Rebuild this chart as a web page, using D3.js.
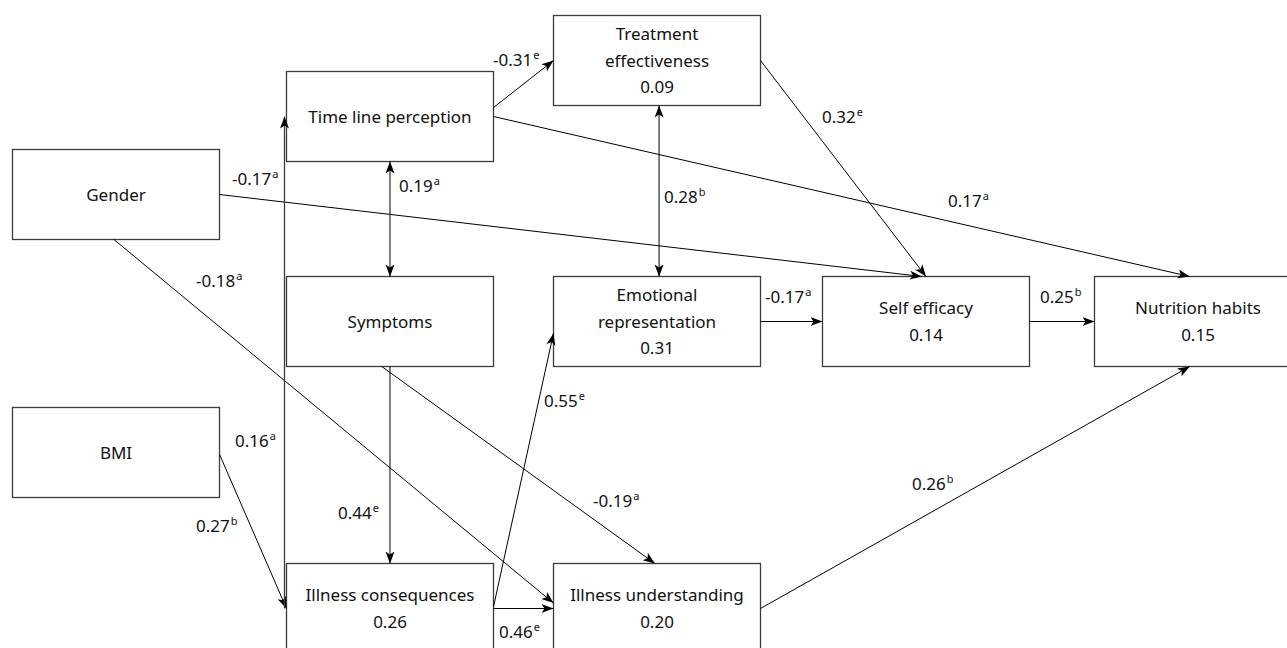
<!DOCTYPE html>
<html>
<head>
<meta charset="utf-8">
<script src="https://cdn.jsdelivr.net/npm/d3@7"></script>
<style>
	body { margin: 0; background: #ffffff; }
	svg { display: block; font-family: "Noto Sans", "DejaVu Sans", sans-serif; }
</style>
</head>
<body>
<svg id="chart" width="1287" height="648"></svg>
<script>

// Variables in the model, with explained variance (R2) where it was reported
var nodeNames = ["Gender", "BMI", "Time line perception", "Symptoms", "Illness consequences",
	"Treatment effectiveness", "Emotional representation", "Illness understanding",
	"Self efficacy", "Nutrition habits"];
var nodeLines = [["Gender"], ["BMI"], ["Time line perception"], ["Symptoms"], ["Illness consequences"],
	["Treatment", "effectiveness"], ["Emotional", "representation"], ["Illness understanding"],
	["Self efficacy"], ["Nutrition habits"]];
var nodeR2 = [null, null, null, null, 0.26, 0.09, 0.31, 0.20, 0.14, 0.15];

// Paths: source, target, standardised coefficient, significance mark, two-headed or not
var pathFrom = [2, 2, 0, 5, 2, 5, 0, 1, 4, 3, 3, 4, 4, 6, 8, 7];
var pathTo   = [5, 9, 8, 8, 3, 6, 7, 4, 2, 4, 7, 6, 7, 8, 9, 9];
var pathCoef = [-0.31, 0.17, -0.17, 0.32, 0.19, 0.28, -0.18, 0.27, 0.16, 0.44, -0.19, 0.55, 0.46, -0.17, 0.25, 0.26];
var pathSig  = ["e", "a", "a", "e", "a", "b", "a", "b", "a", "e", "a", "e", "e", "a", "b", "b"];
var pathBoth = [false, false, false, false, true, true, false, false, false, false, false, false, false, false, false, false];

// ---- layout (kept apart from the values) ----
var W = 1287, H = 648;
var boxW = 207, boxH = 90;
var nodeCol = [0, 0, 1, 1, 1, 2, 2, 2, 3, 4];
var nodeRow = [2, 4, 1, 3, 5, 0, 3, 5, 3, 3];

var xCol = d3.scaleLinear().domain([0, 1, 2, 3, 4]).range([12.5, 286.5, 553.5, 822.5, 1094.5]);
var yRow = d3.scaleLinear().domain([0, 1, 2, 3, 4, 5]).range([15.5, 71.5, 149.5, 276.5, 407.5, 563.5]);

// where each path leaves and enters a box: side and fraction along it
var srcPort = [["R", .40], ["R", .5], ["R", .5], ["R", .5], ["B", .5], ["B", .51], ["B", .49], ["R", .52],
	["L", .5], ["B", .5], ["B", .46], ["R", .48], ["R", .5], ["R", .5], ["R", .5], ["R", .5]];
var tgtPort = [["L", .5], ["T", .46], ["T", .48], ["T", .5], ["T", .5], ["T", .51], ["L", .44], ["L", .5],
	["L", .5], ["T", .5], ["T", .49], ["L", .63], ["L", .5], ["L", .5], ["L", .5], ["B", .46]];
var pathShift = [0, 0, 0, 0, 0, 0, 0, 0, -2, 0, 0, 0, 0, 0, 0, 0];

// coefficient labels: left edge and baseline
var labelAt = [[493, 66], [948, 207], [232, 185], [822, 123], [399, 192], [664, 203], [196, 287], [196, 532],
	[235, 447], [338, 519], [593, 507], [544, 407], [499, 638], [765, 303], [1040, 303], [912, 490]];

var fontSize = 17, lineGap = 26.5, capH = 0.714 * fontSize;

var svg = d3.select('#chart');
var fmt = d3.formatLocale({ decimal: ".", thousands: ",", grouping: [3], currency: ["", ""], minus: "-" }).format(".2f");

svg.append('defs').append('marker')
	.attr('id', 'arrow')
	.attr('viewBox', '0 -5 12 10')
	.attr('refX', 12)
	.attr('refY', 0)
	.attr('markerWidth', 12)
	.attr('markerHeight', 10)
	.attr('markerUnits', 'userSpaceOnUse')
	.attr('orient', 'auto-start-reverse')
	.append('path')
	.attr('d', 'M0,-4.5L12,0L0,4.5L3,0Z')
	.attr('fill', '#000000');

function port(n, p) {
	var x0 = xCol(nodeCol[n]), y0 = yRow(nodeRow[n]);
	if (p[0] == "L") return [x0, y0 + p[1] * boxH];
	if (p[0] == "R") return [x0 + boxW, y0 + p[1] * boxH];
	if (p[0] == "T") return [x0 + p[1] * boxW, y0];
	return [x0 + p[1] * boxW, y0 + boxH];
}

// Boxes
var nodes = svg.append('g').selectAll('g')
	.data(nodeNames.map(function(d, i) { return i; }))
	.enter()
	.append('g');

nodes.append('rect')
	.attr('x', function(i) { return xCol(nodeCol[i]); })
	.attr('y', function(i) { return yRow(nodeRow[i]); })
	.attr('width', boxW)
	.attr('height', boxH)
	.attr('fill', '#ffffff')
	.attr('stroke', '#3c3c3c')
	.attr('stroke-width', 1.3);

nodes.each(function(i) {
	let lines = nodeLines[i].slice();
	if (nodeR2[i] != null) lines.push(fmt(nodeR2[i]));
	let cx = xCol(nodeCol[i]) + boxW / 2;
	let cy = yRow(nodeRow[i]) + boxH / 2;
	let blockH = (lines.length - 1) * lineGap + capH;
	let first = cy - blockH / 2 + capH;
	d3.select(this).selectAll('text')
		.data(lines)
		.enter()
		.append('text')
		.attr('x', cx)
		.attr('y', function(d, k) { return first + k * lineGap; })
		.attr('text-anchor', 'middle')
		.attr('font-size', fontSize)
		.attr('fill', '#111111')
		.text(function(d) { return d; });
});

// Paths
var links = svg.append('g');
for (let j = 0; j < pathFrom.length; j++) {
	let a = port(pathFrom[j], srcPort[j]);
	let b = port(pathTo[j], tgtPort[j]);
	let line = links.append('line')
		.attr('x1', a[0] + pathShift[j])
		.attr('y1', a[1])
		.attr('x2', b[0] + pathShift[j])
		.attr('y2', b[1])
		.attr('stroke', pathShift[j] != 0 ? '#3c3c3c' : '#000000')
		.attr('stroke-width', pathShift[j] != 0 ? 1.3 : 1)
		.attr('marker-end', 'url(#arrow)');
	if (pathBoth[j]) line.attr('marker-start', 'url(#arrow)');
}

// Coefficient labels with significance superscript
var labels = svg.append('g').selectAll('text')
	.data(pathCoef.map(function(d, i) { return i; }))
	.enter()
	.append('text')
	.attr('x', function(i) { return labelAt[i][0]; })
	.attr('y', function(i) { return labelAt[i][1]; })
	.attr('font-size', fontSize)
	.attr('fill', '#111111');

labels.append('tspan').text(function(i) { return fmt(pathCoef[i]); });
labels.append('tspan')
	.attr('font-size', 11)
	.attr('dx', 1)
	.attr('dy', -7)
	.text(function(i) { return pathSig[i]; });

</script>
</body>
</html>
